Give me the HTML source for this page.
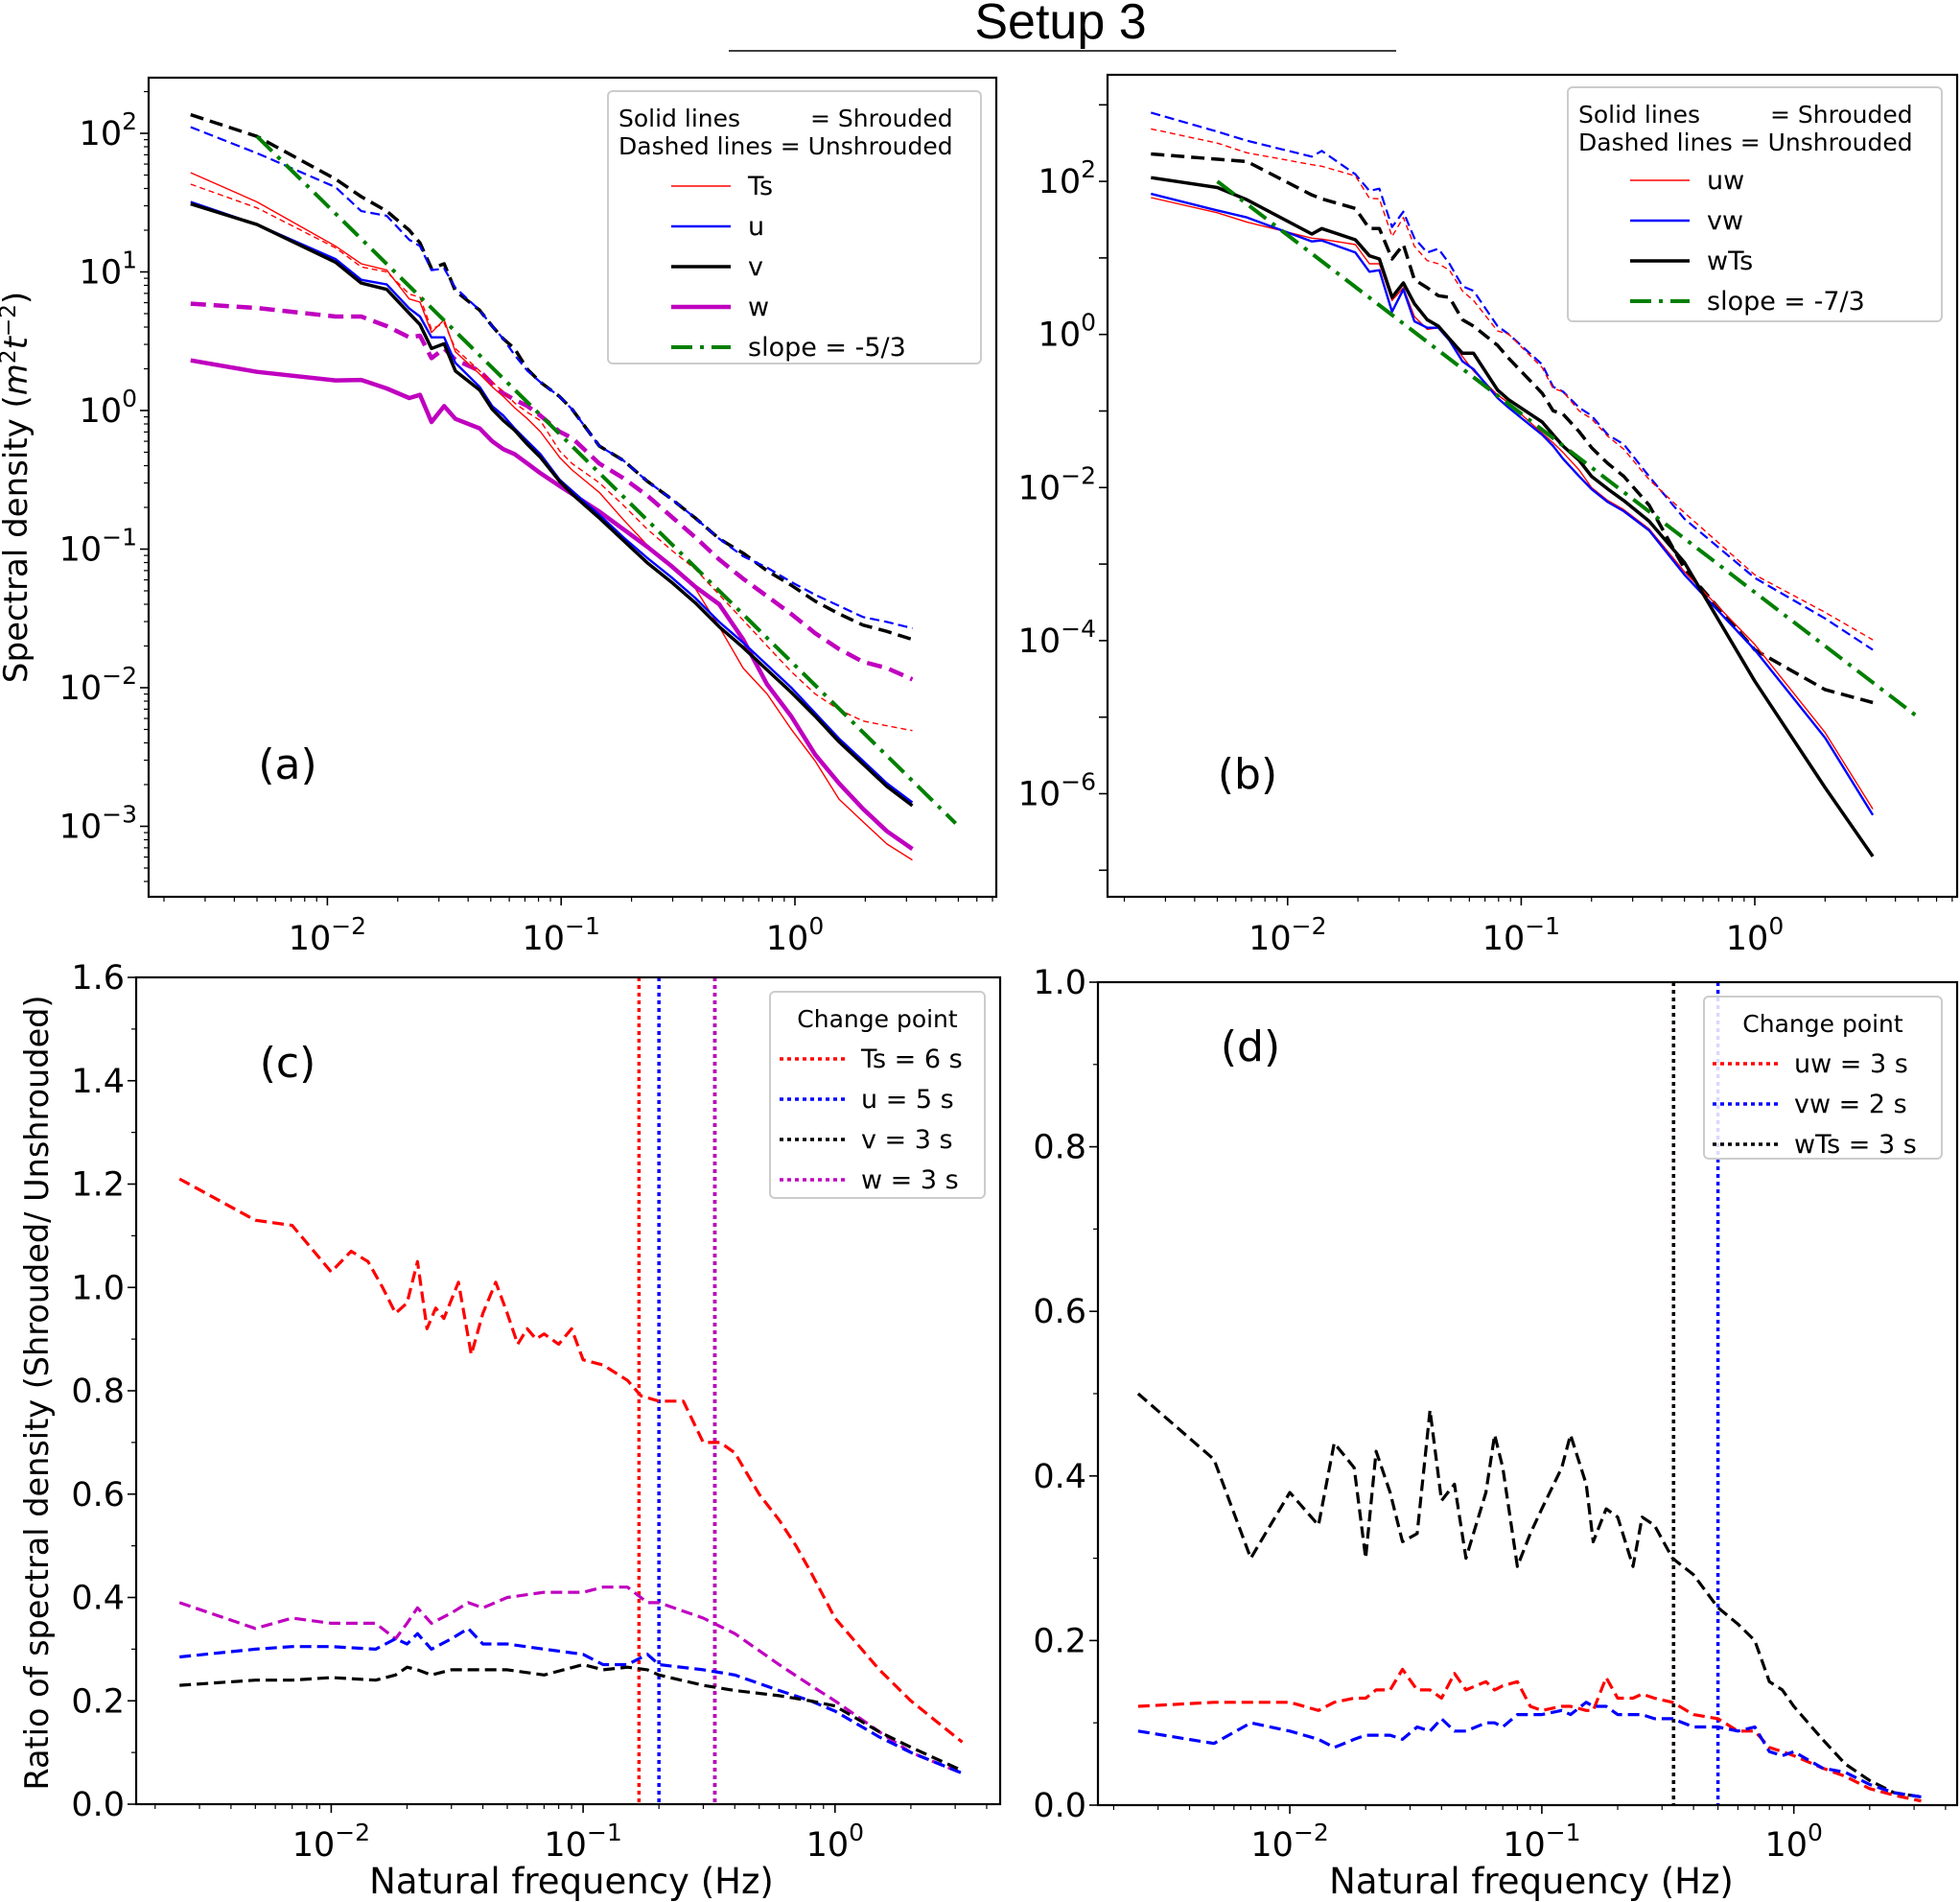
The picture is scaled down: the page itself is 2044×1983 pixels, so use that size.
<!DOCTYPE html>
<html><head><meta charset="utf-8">
<style>
html,body{margin:0;padding:0;background:#fff;}
svg{display:block;font-family:"DejaVu Sans","Liberation Sans",sans-serif;}
</style></head>
<body>
<svg id="fig" width="2044" height="1983" viewBox="0 0 2044 1983" xmlns="http://www.w3.org/2000/svg">
<rect width="2044" height="1983" fill="#fff"/>
<text x="1106" y="40" font-size="52" text-anchor="middle" font-family="Liberation Sans, sans-serif">Setup 3</text>
<line x1="760" y1="53" x2="1456" y2="53" stroke="#000" stroke-width="1.5"/>
<g id="root"></g>
</svg>
<script>
// ---------- Panel (a) data: spectral density (values as log10 exponents) ----------
const aFreq = [0.0026,0.005,0.01084,0.01396,0.01795,0.0224,0.0249,0.0279,0.0316,0.0353,0.0448,0.0507,0.0566,0.0632,0.0718,0.0815,0.0984,0.1114,0.1456,0.1845,0.2336,0.2958,0.3745,0.4742,0.6003,0.760,0.963,1.219,1.544,1.955,2.475,3.18];
const aVDashExp = [2.134,1.978,1.670,1.543,1.439,1.301,1.209,1.024,1.059,0.863,0.724,0.609,0.517,0.447,0.297,0.205,0.101,0.009,-0.256,-0.360,-0.510,-0.637,-0.775,-0.925,-1.029,-1.156,-1.260,-1.375,-1.467,-1.548,-1.594,-1.652];
const aUDashExp = [2.045,1.857,1.612,1.439,1.405,1.232,1.186,1.013,1.024,0.886,0.724,0.609,0.517,0.401,0.286,0.205,0.101,0.009,-0.256,-0.360,-0.510,-0.637,-0.775,-0.925,-1.052,-1.133,-1.237,-1.329,-1.410,-1.490,-1.525,-1.571];
const aTsSolidExp = [1.716,1.505,1.186,1.059,1.013,0.805,0.782,0.563,0.655,0.424,0.263,0.171,0.101,0.021,-0.060,-0.152,-0.337,-0.429,-0.591,-0.787,-0.971,-1.121,-1.283,-1.560,-1.859,-2.044,-2.298,-2.528,-2.805,-2.967,-3.128,-3.243];
const aTsDashExp = [1.633,1.462,1.174,1.036,1.001,0.840,0.817,0.586,0.632,0.447,0.286,0.205,0.136,0.055,-0.014,-0.072,-0.291,-0.383,-0.521,-0.683,-0.856,-1.006,-1.144,-1.329,-1.513,-1.698,-1.883,-2.044,-2.159,-2.240,-2.275,-2.309];
const aUSolidExp = [1.505,1.342,1.093,0.943,0.909,0.736,0.678,0.528,0.528,0.344,0.171,0.032,-0.037,-0.129,-0.222,-0.314,-0.498,-0.579,-0.752,-0.914,-1.064,-1.202,-1.352,-1.525,-1.675,-1.836,-1.998,-2.182,-2.367,-2.528,-2.690,-2.828];
const aVSolidExp = [1.491,1.342,1.070,0.920,0.874,0.701,0.620,0.447,0.482,0.286,0.148,0.009,-0.072,-0.141,-0.245,-0.337,-0.510,-0.602,-0.775,-0.937,-1.098,-1.237,-1.387,-1.560,-1.710,-1.871,-2.032,-2.205,-2.390,-2.551,-2.713,-2.851];
const aWDashExp = [0.771,0.740,0.678,0.678,0.609,0.528,0.540,0.378,0.447,0.367,0.286,0.194,0.124,0.078,0.032,-0.037,-0.152,-0.198,-0.383,-0.487,-0.614,-0.764,-0.914,-1.075,-1.214,-1.340,-1.467,-1.606,-1.721,-1.813,-1.859,-1.940];
const aWSolidExp = [0.362,0.279,0.217,0.221,0.159,0.090,0.113,-0.083,0.032,-0.060,-0.129,-0.222,-0.279,-0.314,-0.383,-0.452,-0.544,-0.602,-0.729,-0.856,-0.983,-1.121,-1.271,-1.398,-1.652,-1.975,-2.205,-2.482,-2.690,-2.874,-3.036,-3.163];
const aSlopeF = [0.005,4.87];
const aSlopeV = [95,0.00105];
// ---------- Panel (b) data: cospectra (values as log10 exponents) ----------
const bFreq = [0.0026,0.005,0.0067,0.0127,0.014,0.0195,0.0224,0.0247,0.028,0.0313,0.0349,0.0396,0.0442,0.0493,0.056,0.0625,0.0792,0.0883,0.123,0.137,0.151,0.177,0.2,0.235,0.275,0.353,0.5,1.0,2.0,3.2];
const bVwDashExp = [2.898,2.65,2.531,2.323,2.398,2.093,1.876,1.905,1.404,1.604,1.258,1.070,1.120,0.924,0.632,0.569,0.109,0.005,-0.392,-0.684,-0.747,-0.956,-1.060,-1.311,-1.436,-1.855,-2.41,-3.18,-3.71,-4.12];
const bUwDashExp = [2.686,2.5,2.373,2.218,2.198,2.072,1.780,1.772,1.279,1.529,1.153,0.965,0.924,0.840,0.568,0.443,0.046,0.005,-0.434,-0.705,-0.747,-0.998,-1.102,-1.332,-1.499,-1.896,-2.33,-3.14,-3.63,-3.99];
const bWTsDashExp = [2.359,2.29,2.260,1.822,1.772,1.646,1.383,1.383,0.986,1.174,0.715,0.610,0.506,0.485,0.193,0.109,-0.142,-0.309,-0.768,-0.998,-1.040,-1.269,-1.478,-1.687,-1.854,-2.230,-3.06,-4.12,-4.64,-4.81];
const bWTsSolidExp = [2.049,1.92,1.759,1.312,1.383,1.237,1.028,0.986,0.485,0.673,0.402,0.193,0.109,-0.058,-0.246,-0.246,-0.726,-0.852,-1.144,-1.311,-1.457,-1.645,-1.854,-2.02,-2.17,-2.44,-2.98,-4.53,-5.92,-6.82];
const bVwSolidExp = [1.837,1.62,1.529,1.216,1.228,1.070,0.819,0.840,0.297,0.589,0.172,0.088,0.088,-0.079,-0.350,-0.455,-0.830,-0.956,-1.311,-1.457,-1.624,-1.854,-2.02,-2.19,-2.31,-2.56,-3.14,-4.12,-5.27,-6.28];
const bUwSolidExp = [1.788,1.59,1.467,1.258,1.245,1.174,0.924,0.924,0.443,0.610,0.234,0.067,0.088,-0.058,-0.288,-0.476,-0.789,-0.893,-1.290,-1.415,-1.541,-1.771,-2.0,-2.17,-2.29,-2.54,-3.10,-4.05,-5.2,-6.2];
const bSlopeF = [0.005,5.0];
const bSlopeV = [100,0.00001];
// ---------- Panel (c) data: ratio ----------
const cFreqTs = [0.0025,0.005,0.007,0.01,0.012,0.014,0.016,0.018,0.02,0.022,0.024,0.026,0.028,0.032,0.036,0.04,0.045,0.05,0.055,0.06,0.065,0.07,0.08,0.09,0.1,0.12,0.15,0.17,0.2,0.25,0.3,0.35,0.4,0.5,0.6,0.7,0.8,1.0,1.5,2.0,3.2];
const cTs = [1.21,1.13,1.12,1.03,1.07,1.05,1.0,0.95,0.97,1.05,0.92,0.96,0.94,1.01,0.87,0.95,1.01,0.95,0.89,0.92,0.90,0.91,0.89,0.92,0.86,0.85,0.82,0.79,0.78,0.78,0.70,0.70,0.68,0.60,0.55,0.50,0.45,0.36,0.26,0.20,0.12];
const cFreq = [0.0025,0.005,0.007,0.01,0.015,0.018,0.02,0.022,0.025,0.03,0.035,0.04,0.05,0.07,0.1,0.12,0.15,0.18,0.2,0.3,0.4,0.6,0.8,1.0,1.5,2.0,3.2];
const cW = [0.39,0.34,0.36,0.35,0.35,0.32,0.35,0.38,0.35,0.37,0.39,0.38,0.40,0.41,0.41,0.42,0.42,0.39,0.39,0.36,0.33,0.27,0.23,0.20,0.14,0.10,0.06];
const cU = [0.285,0.30,0.305,0.305,0.30,0.32,0.31,0.33,0.30,0.32,0.34,0.31,0.31,0.30,0.29,0.27,0.27,0.29,0.27,0.26,0.25,0.22,0.20,0.18,0.13,0.10,0.06];
const cV = [0.23,0.24,0.24,0.245,0.24,0.25,0.265,0.26,0.25,0.26,0.26,0.26,0.26,0.25,0.27,0.26,0.265,0.26,0.25,0.23,0.22,0.21,0.20,0.19,0.14,0.11,0.065];
const cChangeF = [1/6,1/5,1/3,1/3];
const cChangeCol = ["#ff0000","#0000ff","#000000","#bf00bf"];
const cChangeLbl = ["Ts = 6 s","u = 5 s","v = 3 s","w = 3 s"];
// ---------- Panel (d) data ----------
const dFreq = [0.0025,0.005,0.007,0.01,0.013,0.015,0.018,0.02,0.022,0.025,0.028,0.032,0.036,0.04,0.045,0.05,0.06,0.065,0.07,0.08,0.09,0.1,0.12,0.13,0.15,0.16,0.18,0.2,0.23,0.25,0.28,0.33,0.4,0.5,0.6,0.7,0.8,0.9,1.0,1.3,1.6,2.0,2.5,3.2];
const dWTs = [0.50,0.42,0.30,0.38,0.34,0.44,0.41,0.30,0.43,0.38,0.32,0.33,0.48,0.37,0.39,0.30,0.38,0.45,0.41,0.29,0.33,0.36,0.41,0.45,0.39,0.32,0.36,0.35,0.29,0.35,0.34,0.30,0.28,0.24,0.22,0.20,0.15,0.14,0.12,0.08,0.05,0.03,0.015,0.01];
const dUw = [0.12,0.125,0.125,0.125,0.115,0.125,0.13,0.13,0.14,0.14,0.165,0.14,0.14,0.13,0.16,0.14,0.15,0.14,0.145,0.15,0.12,0.115,0.12,0.12,0.115,0.115,0.155,0.13,0.13,0.135,0.13,0.125,0.11,0.105,0.09,0.09,0.07,0.065,0.06,0.045,0.035,0.02,0.012,0.005];
const dVw = [0.09,0.075,0.10,0.09,0.08,0.07,0.08,0.085,0.085,0.085,0.08,0.095,0.09,0.105,0.09,0.09,0.10,0.10,0.095,0.11,0.11,0.11,0.115,0.11,0.125,0.12,0.12,0.11,0.11,0.11,0.105,0.105,0.095,0.095,0.09,0.095,0.065,0.06,0.065,0.045,0.04,0.025,0.015,0.01];
const dChangeF = [1/3,1/2,1/3];
const dChangeCol = ["#ff0000","#0000ff","#000000"];
const dChangeLbl = ["uw = 3 s","vw = 2 s","wTs = 3 s"];

const NS="http://www.w3.org/2000/svg";
const root=document.getElementById('root');
function el(tag,attrs,parent){const e=document.createElementNS(NS,tag);for(const k in attrs)e.setAttribute(k,attrs[k]);(parent||root).appendChild(e);return e;}
const pow10=a=>a.map(e=>Math.pow(10,e));

function logX(x0,dec){return f=>x0+dec*Math.log10(f);}
const A={L:155,R:1039,T:81,B:935,x:logX(829,243.8),y:v=>139-144.5*(Math.log10(v)-2)};
const Bp={L:1155,R:2041,T:78,B:935,x:logX(1830,243.6),y:v=>348.7-79.8*Math.log10(v)};
const C={L:142,R:1043,T:1019,B:1881,x:logX(870.8,262.7),y:v=>1881-v/1.6*862};
const D={L:1145,R:2041,T:1024,B:1882,x:logX(1870.7,262.8),y:v=>1882-v*858};

function frame(P,name){
  const r=el('rect',{x:P.L,y:P.T,width:P.R-P.L,height:P.B-P.T,fill:'none',stroke:'#000','stroke-width':2.2});
  
  
}
function logXTicks(P,name,labY){
  const g=el('g',{});
  
  
  for(let e=-3;e<=1;e++){for(let m=1;m<10;m++){const f=m*Math.pow(10,e);const x=P.x(f);if(x<P.L||x>P.R)continue;
    el('line',{x1:x,y1:P.B,x2:x,y2:P.B+(m===1?9:5),stroke:'#000','stroke-width':m===1?1.6:1.2},g);
    if(m===1){const t=el('text',{x:x,y:labY,'font-size':35,'text-anchor':'middle'},g);
      
      
      t.innerHTML='10<tspan dy="-16" font-size="25">'+(e<0?'\u2212'+(-e):e)+'</tspan>';}}}
}
function logYTicks(P,name,emin,emax,labelEvery){
  const g=el('g',{});
  
  
  for(let e=emin;e<=emax;e++){for(let m=1;m<10;m++){const v=m*Math.pow(10,e);const y=P.y(v);if(y<P.T||y>P.B)continue;
    if(labelEvery===2&&m!==1)continue;
    el('line',{x1:P.L,y1:y,x2:P.L-(m===1?9:5),y2:y,stroke:'#000','stroke-width':m===1?1.6:1.2},g);
    if(m===1&&(e%labelEvery===0)){const t=el('text',{x:P.L-12,y:y+12,'font-size':35,'text-anchor':'end'},g);
      
      
      t.innerHTML='10<tspan dy="-16" font-size="25">'+(e<0?'\u2212'+(-e):e)+'</tspan>';}}}
}
function linYTicks(P,name,max,step){
  const g=el('g',{});
  
  
  for(let i=0;i<=Math.round(max/(step/2));i++){const v=i*step/2;const y=P.y(v);const maj=i%2===0;
    el('line',{x1:P.L,y1:y,x2:P.L-(maj?9:5),y2:y,stroke:'#000','stroke-width':maj?1.6:1.2},g);
    if(maj){const t=el('text',{x:P.L-12,y:y+12,'font-size':35,'text-anchor':'end'},g);
      
      
      t.textContent=v.toFixed(1);}}
}
function series(P,fs,vs,col,w,dash,name){
  let d='';
  for(let i=0;i<fs.length;i++){d+=(i?'L':'M')+P.x(fs[i]).toFixed(1)+','+P.y(vs[i]).toFixed(1);}
  const p=el('path',{d:d,fill:'none',stroke:col,'stroke-width':w,'stroke-dasharray':dash||'none','stroke-linejoin':'round'});
  
  
}
function vline(P,f,col,name){
  const l=el('line',{x1:P.x(f),y1:P.T,x2:P.x(f),y2:P.B,stroke:col,'stroke-width':3.5,'stroke-dasharray':'4,4'});
  
  
}
function legend(x,y,w,h,title,entries,name){
  const g=el('g',{});
  
  
  el('rect',{x:x,y:y,width:w,height:h,rx:5,fill:'#fff','fill-opacity':0.85,stroke:'#ccc','stroke-width':2},g);
  let yy=y+8;
  title.forEach(t=>{yy+=29;
    if(t.parts){t.parts.forEach(p=>{const tt=el('text',{x:p.x,y:yy,'font-size':25},g);tt.textContent=p.s;});}
    else{const tt=el('text',{x:t.x,y:yy,'font-size':t.fs||25,'text-anchor':t.anchor||'start'},g);tt.textContent=t.s;}});
  entries.forEach(en=>{yy+=en.gap;
    el('line',{x1:en.lx,y1:yy-9,x2:en.lx+(en.len||62),y2:yy-9,stroke:en.col,'stroke-width':en.w,'stroke-dasharray':en.dash||'none'},g);
    const tt=el('text',{x:en.lx+(en.off||80),y:yy,'font-size':en.fs||27},g);
    
    
    tt.textContent=en.s;});
}
function label(x,y,s,fs,name,rot){
  const t=el('text',{x:x,y:y,'font-size':fs,'text-anchor':'middle',transform:rot?'rotate(-90 '+x+' '+y+')':''});
  
  
  t.innerHTML=s;
}

// ---- Panel a ----
series(A,aFreq,pow10(aVDashExp),'#000',3.5,'14,7','a-v-unshrouded');
series(A,aFreq,pow10(aUDashExp),'#0000ff',2.2,'10,5','a-u-unshrouded');
series(A,aFreq,pow10(aWDashExp),'#bf00bf',4.5,'16,8','a-w-unshrouded');
series(A,aFreq,pow10(aTsDashExp),'#ff0000',1.4,'6,4','a-ts-unshrouded');
series(A,aFreq,pow10(aTsSolidExp),'#ff0000',1.4,'','a-ts-shrouded');
series(A,aFreq,pow10(aWSolidExp),'#bf00bf',4.5,'','a-w-shrouded');
series(A,aFreq,pow10(aUSolidExp),'#0000ff',2.4,'','a-u-shrouded');
series(A,aFreq,pow10(aVSolidExp),'#000',3.5,'','a-v-shrouded');
series(A,aSlopeF,aSlopeV,'#007f00',4,'22,8,4,8','a-slope-line');
frame(A,'panel-a');
logXTicks(A,'panel-a',990);
logYTicks(A,'panel-a',-4,2,1);
label(300,812,'(a)',44,'panel-a-label');
label(28,508,'Spectral density (<tspan font-style="italic">m</tspan><tspan dy="-12" font-size="23">2</tspan><tspan dy="12" font-style="italic">t</tspan><tspan dy="-12" font-size="23">\u22122</tspan><tspan dy="12">)</tspan>',34,'panel-a-y-axis-title',true);
legend(634,95,389,284,[{parts:[{x:645,s:'Solid lines'},{x:845,s:'= Shrouded'}]},{x:645,s:'Dashed lines = Unshrouded'}],[
 {lx:700,gap:42,col:'#ff0000',w:1.5,s:'Ts'},
 {lx:700,gap:42,col:'#0000ff',w:2.5,s:'u'},
 {lx:700,gap:42,col:'#000',w:3.5,s:'v'},
 {lx:700,gap:42,col:'#bf00bf',w:4.5,s:'w'},
 {lx:700,gap:42,col:'#007f00',w:4,dash:'22,8,4,8',s:'slope = -5/3'}],'panel-a-legend');

// ---- Panel b ----
series(Bp,bFreq,pow10(bVwDashExp),'#0000ff',2.2,'10,5','b-vw-unshrouded');
series(Bp,bFreq,pow10(bUwDashExp),'#ff0000',1.4,'6,4','b-uw-unshrouded');
series(Bp,bFreq,pow10(bWTsDashExp),'#000',3.5,'14,7','b-wts-unshrouded');
series(Bp,bFreq,pow10(bUwSolidExp),'#ff0000',1.4,'','b-uw-shrouded');
series(Bp,bFreq,pow10(bVwSolidExp),'#0000ff',2.4,'','b-vw-shrouded');
series(Bp,bFreq,pow10(bWTsSolidExp),'#000',3.5,'','b-wts-shrouded');
series(Bp,bSlopeF,bSlopeV,'#007f00',4,'22,8,4,8','b-slope-line');
frame(Bp,'panel-b');
logXTicks(Bp,'panel-b',990);
logYTicks(Bp,'panel-b',-7,3,2);
label(1301,822,'(b)',44,'panel-b-label');
legend(1635,91,390,244,[{parts:[{x:1646,s:'Solid lines'},{x:1846,s:'= Shrouded'}]},{x:1646,s:'Dashed lines = Unshrouded'}],[
 {lx:1700,gap:40,col:'#ff0000',w:1.5,s:'uw'},
 {lx:1700,gap:42,col:'#0000ff',w:2.5,s:'vw'},
 {lx:1700,gap:42,col:'#000',w:3.5,s:'wTs'},
 {lx:1700,gap:42,col:'#007f00',w:4,dash:'22,8,4,8',s:'slope = -7/3'}],'panel-b-legend');

// ---- Panel c ----
for(let i=0;i<cChangeF.length;i++){vline(C,cChangeF[i],cChangeCol[i],'c-change-point-'+i);}
series(C,cFreqTs,cTs,'#ff0000',3.2,'12,6','c-ts-ratio');
series(C,cFreq,cW,'#bf00bf',3.2,'12,6','c-w-ratio');
series(C,cFreq,cU,'#0000ff',3.2,'12,6','c-u-ratio');
series(C,cFreq,cV,'#000',3.2,'12,6','c-v-ratio');
frame(C,'panel-c');
logXTicks(C,'panel-c',1935);
linYTicks(C,'panel-c',1.6,0.2);
label(300,1123,'(c)',44,'panel-c-label');
label(50,1452,'Ratio of spectral density (Shrouded/ Unshrouded)',33.5,'panel-c-y-axis-title',true);
label(596,1974,'Natural frequency (Hz)',37,'panel-c-x-axis-title');
legend(803,1034,224,215,[{x:915,s:'Change point',anchor:'middle'}],cChangeLbl.map((s,i)=>({lx:813,gap:42,col:cChangeCol[i],w:3.5,dash:'4,4',len:72,off:85,s:s})),'panel-c-legend');

// ---- Panel d ----
for(let i=0;i<dChangeF.length;i++){vline(D,dChangeF[i],dChangeCol[i],'d-change-point-'+i);}
series(D,dFreq,dWTs,'#000',3.2,'12,6','d-wts-ratio');
series(D,dFreq,dUw,'#ff0000',3.2,'12,6','d-uw-ratio');
series(D,dFreq,dVw,'#0000ff',3.2,'12,6','d-vw-ratio');
frame(D,'panel-d');
logXTicks(D,'panel-d',1935);
linYTicks(D,'panel-d',1.0,0.2);
label(1304,1106,'(d)',44,'panel-d-label');
label(1597,1974,'Natural frequency (Hz)',37,'panel-d-x-axis-title');
legend(1777,1039,248,169,[{x:1901,s:'Change point',anchor:'middle'}],dChangeLbl.map((s,i)=>({lx:1786,gap:42,col:dChangeCol[i],w:3.5,dash:'4,4',len:72,off:85,s:s})),'panel-d-legend');
</script>
</body></html>
